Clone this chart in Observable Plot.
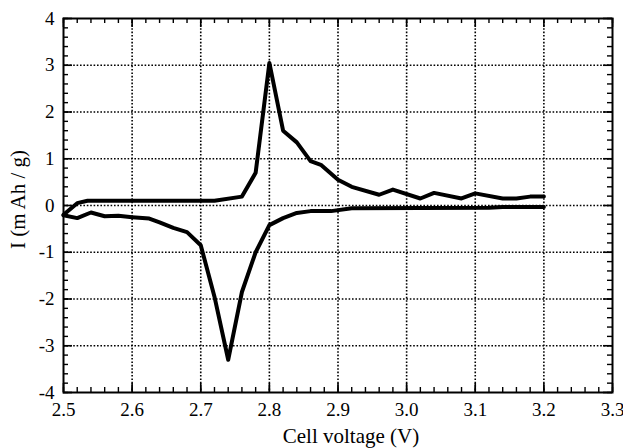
<!DOCTYPE html>
<html><head><meta charset="utf-8">
<script src="https://cdn.jsdelivr.net/npm/d3@7"></script>
<script src="https://cdn.jsdelivr.net/npm/@observablehq/plot@0.6"></script>
<style>html,body{margin:0;padding:0;background:#fff}</style>
</head><body><div id="chart"></div>
<script>
// Anodic (upper) branch
const upperX = [2.50, 2.52, 2.535, 2.60, 2.72, 2.76, 2.78, 2.80, 2.82, 2.84, 2.86, 2.875, 2.90, 2.92, 2.96, 2.98, 3.02, 3.04, 3.08, 3.10, 3.14, 3.16, 3.18, 3.20];
const upperY = [-0.20, 0.05, 0.10, 0.10, 0.10, 0.19, 0.70, 3.05, 1.60, 1.35, 0.95, 0.87, 0.55, 0.40, 0.23, 0.34, 0.15, 0.27, 0.15, 0.26, 0.15, 0.15, 0.19, 0.19];
// Cathodic (lower) branch
const lowerX = [2.50, 2.52, 2.54, 2.56, 2.58, 2.60, 2.625, 2.64, 2.66, 2.68, 2.70, 2.72, 2.74, 2.76, 2.78, 2.80, 2.82, 2.84, 2.86, 2.89, 2.92, 3.12, 3.14, 3.20];
const lowerY = [-0.21, -0.27, -0.15, -0.23, -0.22, -0.25, -0.28, -0.36, -0.48, -0.57, -0.85, -1.95, -3.30, -1.85, -1.00, -0.42, -0.27, -0.16, -0.12, -0.12, -0.06, -0.05, -0.03, -0.03];

const xMajorTicks = [2.5, 2.6, 2.7, 2.8, 2.9, 3.0, 3.1, 3.2, 3.3];
const xTickLabels = ["2.5", "2.6", "2.7", "2.8", "2.9", "3.0", "3.1", "3.2", "3.3"];
const yMajorTicks = [-4, -3, -2, -1, 0, 1, 2, 3, 4];
const yTickLabels = ["-4", "-3", "-2", "-1", "0", "1", "2", "3", "4"];
const xGrid = [2.6, 2.7, 2.8, 2.9, 3.0, 3.1, 3.2];
const yGrid = [-3, -2, -1, 0, 1, 2, 3];
const xMinorTicks = d3.range(0, 41).map(i => +(2.5 + i * 0.02).toFixed(2));
const yMinorTicks = d3.range(0, 41).map(i => +(-4 + i * 0.2).toFixed(1));

const xLabel = "Cell voltage (V)";
const yLabel = "I (m Ah / g)";

const W = 623, H = 448, mL = 63, mR = 11, mT = 18, mB = 56;
const pw = W - mL - mR, ph = H - mT - mB;
const font = "Liberation Serif";

const upper = upperX.map((x, i) => ({x, y: upperY[i]}));
const lower = lowerX.map((x, i) => ({x, y: lowerY[i]}));

const chart = Plot.plot({
  width: W, height: H,
  marginLeft: mL, marginRight: mR, marginTop: mT, marginBottom: mB,
  x: {domain: [2.5, 3.3]},
  y: {domain: [-4, 4]},
  marks: [
    Plot.ruleX(xGrid, {x: d => d, stroke: "#000", strokeWidth: 1.6, strokeDasharray: "1.6,1.8"}),
    Plot.ruleY(yGrid, {y: d => d, stroke: "#000", strokeWidth: 1.6, strokeDasharray: "1.6,1.8"}),
    // minor ticks (inward, all four sides)
    Plot.tickX(xMinorTicks, {x: d => d, insetTop: ph - 5, strokeWidth: 1.4}),
    Plot.tickX(xMinorTicks, {x: d => d, insetBottom: ph - 5, strokeWidth: 1.4}),
    Plot.tickY(yMinorTicks, {y: d => d, insetRight: pw - 5, strokeWidth: 1.4}),
    Plot.tickY(yMinorTicks, {y: d => d, insetLeft: pw - 5, strokeWidth: 1.4}),
    // major ticks
    Plot.tickX(xMajorTicks, {x: d => d, insetTop: ph - 9, strokeWidth: 1.6}),
    Plot.tickX(xMajorTicks, {x: d => d, insetBottom: ph - 9, strokeWidth: 1.6}),
    Plot.tickY(yMajorTicks, {y: d => d, insetRight: pw - 9, strokeWidth: 1.6}),
    Plot.tickY(yMajorTicks, {y: d => d, insetLeft: pw - 9, strokeWidth: 1.6}),
    Plot.axisX(xMajorTicks, {tickSize: 0, tickPadding: 10, label: null, fontSize: 19,
      tickFormat: d => xTickLabels[xMajorTicks.indexOf(d)]}),
    Plot.axisY(yMajorTicks, {tickSize: 0, tickPadding: 9, label: null, fontSize: 19,
      tickFormat: d => yTickLabels[yMajorTicks.indexOf(d)]}),
    Plot.line(upper, {x: "x", y: "y", stroke: "#000", strokeWidth: 4, strokeLinejoin: "round", strokeLinecap: "round"}),
    Plot.line(lower, {x: "x", y: "y", stroke: "#000", strokeWidth: 4, strokeLinejoin: "round", strokeLinecap: "round"}),
    Plot.frame({stroke: "#000", strokeWidth: 2}),
    Plot.text([xLabel], {text: d => d, frameAnchor: "bottom", textAnchor: "middle", lineAnchor: "middle",
      dy: 44, dx: 13, fontSize: 21}),
    Plot.text([yLabel], {text: d => d, frameAnchor: "left", textAnchor: "middle", lineAnchor: "middle",
      rotate: -90, dx: -45, dy: -6, fontSize: 21})
  ]
});
// force the serif face on the root and every text element
chart.setAttribute("font-family", font);
chart.style.fontFamily = font;
chart.style.background = "#fff";
chart.querySelectorAll("g, text").forEach(el => {
  if (el.hasAttribute("font-family")) el.setAttribute("font-family", font);
  if (el.tagName === "text") { el.setAttribute("font-family", font); el.style.fontFamily = font; }
});
document.getElementById("chart").appendChild(chart);
</script>
</body></html>
